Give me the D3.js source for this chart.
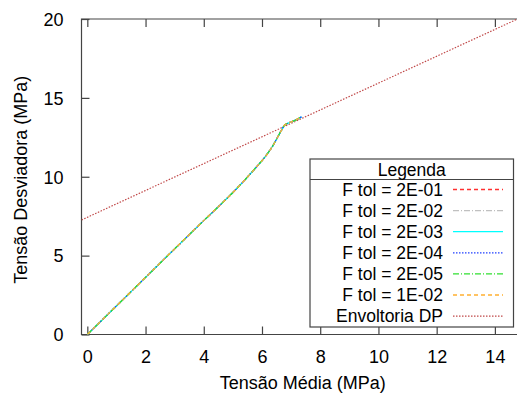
<!DOCTYPE html>
<html><head><meta charset="utf-8">
<script src="https://cdn.jsdelivr.net/npm/d3@7"></script>
<style>body{margin:0;background:#fff}svg{display:block}text{font-family:"Liberation Sans",Arial,sans-serif;fill:#000}</style>
</head><body><div id="chart"></div>
<script>
// Data
const seriesNames = ["F tol = 2E-01","F tol = 2E-02","F tol = 2E-03","F tol = 2E-04","F tol = 2E-05","F tol = 1E-02"];
const seriesColors = ["#ff3030","#c0c0c0","#00ffff","#2040ff","#30e030","#ffb030"];
const seriesDash = ["4,3","6,2,1,2","","1.5,1.5","6,2,1,2","4,3"];
const pMedia = [0,1,2,3,4,4.5,5,5.5,5.8,6.1,6.35,6.55,6.7,6.78,6.9,7.1,7.36];
const qDesv  = [0,1.81,3.62,5.43,7.22,8.1,9.0,9.98,10.6,11.25,11.9,12.55,13.05,13.28,13.4,13.55,13.8];
const envName = "Envoltoria DP";
const envP = [-0.2,15];
const envQ = [7.26,20.19];
const xTicks = [0,2,4,6,8,10,12,14];
const yTicks = [0,5,10,15,20];

const W=517,H=396;
const svg=d3.select("#chart").append("svg").attr("width",W).attr("height",H);
const x=d3.scaleLinear().domain([-0.2,15]).range([81.5,524]);
const y=d3.scaleLinear().domain([0,20]).range([334.5,19]);
const axisCol="#444";
const fs=18, lfs=17.5;

svg.append("defs").append("clipPath").attr("id","clip").append("rect")
  .attr("x",x(-0.2)).attr("y",y(20)).attr("width",x(15)-x(-0.2)).attr("height",y(0)-y(20));

// axes
const g=svg.append("g");
g.append("path").attr("d",`M${x(15)},${y(20)}H${x(-0.2)}V${y(0)}H${x(15)}`).attr("fill","none").attr("stroke",axisCol).attr("stroke-width",1.2);
const xa=d3.axisBottom(x).tickValues(xTicks).tickSize(-8).tickPadding(16).tickFormat(d3.format("d"));
const xg=g.append("g").attr("transform",`translate(0,${y(0)})`).call(xa);
const xt=d3.axisTop(x).tickValues(xTicks).tickSize(-8).tickFormat("");
const xtg=g.append("g").attr("transform",`translate(0,${y(20)})`).call(xt);
const ya=d3.axisLeft(y).tickValues(yTicks).tickSize(-8).tickPadding(18);
const yg=g.append("g").attr("transform",`translate(${x(-0.2)},0)`).call(ya);
[xg,xtg,yg].forEach(s=>{s.select(".domain").remove();s.selectAll("line").attr("stroke",axisCol).attr("stroke-width",1.2);
 s.selectAll("text").style("font-family","Liberation Sans, Arial, sans-serif").style("font-size",fs+"px").attr("fill","#000");});
yg.selectAll("text").attr("dy","0.35em");

svg.append("text").attr("x",(x(-0.2)+x(15))/2).attr("y",389).attr("text-anchor","middle").style("font-size",fs+"px").text("Tensão Média (MPa)");
svg.append("text").attr("transform",`translate(27,${(y(0)+y(20))/2+3}) rotate(-90)`).attr("text-anchor","middle").style("font-size",fs+"px").text("Tensão Desviadora (MPa)");

// data
const plot=svg.append("g").attr("clip-path","url(#clip)");
const line=d3.line().x(d=>x(d[0])).y(d=>y(d[1])).curve(d3.curveMonotoneX);
const pts=pMedia.map((p,i)=>[p,qDesv[i]]);
plot.append("path").datum(envP.map((p,i)=>[p,envQ[i]])).attr("d",d3.line().x(d=>x(d[0])).y(d=>y(d[1])))
  .attr("fill","none").attr("stroke","#c04848").attr("stroke-width",1.2).attr("stroke-dasharray","1.5,1.5");
seriesNames.forEach((n,i)=>{
  plot.append("path").datum(pts).attr("d",line).attr("fill","none").attr("stroke",seriesColors[i]).attr("stroke-width",1.3)
   .attr("stroke-dasharray",seriesDash[i]||null);
});

// legend
const lg=svg.append("g");
const lx0=310,lx1=513.5,ly0=159,ly1=327,lyt=179.5;
lg.append("rect").attr("x",lx0).attr("y",ly0).attr("width",lx1-lx0).attr("height",ly1-ly0).attr("fill","#fff").attr("stroke",axisCol).attr("stroke-width",1.2);
lg.append("line").attr("x1",lx0).attr("x2",lx1).attr("y1",lyt).attr("y2",lyt).attr("stroke",axisCol).attr("stroke-width",1.2);
lg.append("text").attr("x",(lx0+lx1)/2).attr("y",169.5).attr("dy","0.35em").attr("text-anchor","middle").style("font-size",lfs+"px").text("Legenda");
const names=seriesNames.concat([envName]);
const cols=seriesColors.concat(["#c04848"]);
const dashes=seriesDash.concat(["1.5,1.5"]);
names.forEach((n,i)=>{
  const yy=189.5+i*21.1;
  lg.append("text").attr("x",443).attr("y",yy).attr("dy","0.35em").attr("text-anchor","end").style("font-size",lfs+"px").text(n);
  lg.append("line").attr("x1",453).attr("x2",503).attr("y1",yy).attr("y2",yy).attr("stroke",cols[i]).attr("stroke-width",1.3).attr("stroke-dasharray",dashes[i]||null);
});
</script></body></html>
